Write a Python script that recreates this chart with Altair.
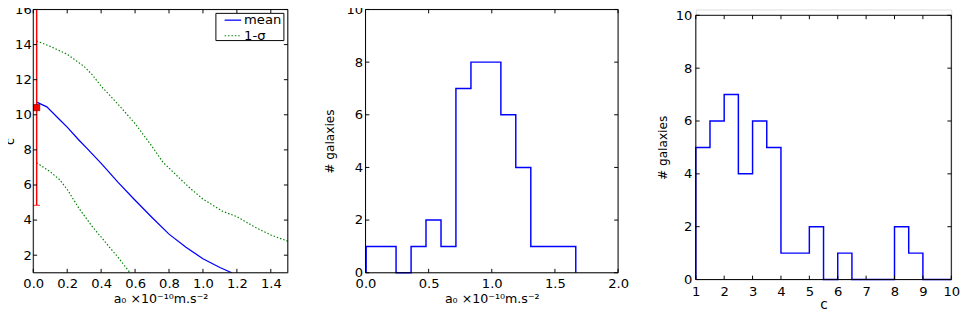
import altair as alt
import pandas as pd

# ---------------- data ----------------
# Panel 1: c versus a0
mean_a0 = [0.02, 0.08, 0.156, 0.2, 0.27, 0.318, 0.403, 0.5, 0.593, 0.7, 0.8, 0.9, 1.0, 1.1, 1.17]
mean_c = [10.72, 10.45, 9.72, 9.3, 8.55, 8.07, 7.2, 6.15, 5.2, 4.15, 3.2, 2.45, 1.8, 1.3, 1.0]

upper_a0 = [0.02, 0.1, 0.2, 0.3, 0.346, 0.403, 0.5, 0.6, 0.7, 0.764, 0.85, 0.926, 1.0, 1.116, 1.2, 1.306, 1.4, 1.5]
upper_c = [14.2, 13.9, 13.45, 12.75, 12.3, 11.6, 10.6, 9.5, 8.2, 7.3, 6.5, 5.8, 5.2, 4.5, 4.2, 3.6, 3.15, 2.8]

lower_a0 = [0.02, 0.1, 0.156, 0.2, 0.27, 0.35, 0.403, 0.45, 0.498, 0.57]
lower_c = [7.27, 6.75, 6.3, 5.75, 4.66, 3.6, 3.0, 2.45, 1.9, 1.0]

err_x = [0.02]
err_c = [10.41]
err_lo = [4.84]
err_hi = [16.5]

legend_labels = ["mean", "1-σ"]

# Panel 2: histogram of a0
a0_edges = [0.005, 0.124, 0.242, 0.361, 0.479, 0.598, 0.716, 0.835, 0.953,
            1.072, 1.190, 1.309, 1.427, 1.546, 1.665]
a0_counts = [1, 1, 0, 1, 2, 1, 7, 8, 8, 6, 4, 1, 1, 1]

# Panel 3: histogram of c
c_edges = [1.0, 1.5, 2.0, 2.5, 3.0, 3.5, 4.0, 4.5, 5.0, 5.5, 6.0, 6.5, 7.0,
           7.5, 8.0, 8.5, 9.0, 9.5, 10.0]
c_counts = [5, 6, 7, 4, 6, 5, 1, 1, 2, 0, 1, 0, 0, 0, 2, 1, 0, 0]

# tick values
p1_xticks = [0.0, 0.2, 0.4, 0.6, 0.8, 1.0, 1.2, 1.4]
p1_yticks = [2, 4, 6, 8, 10, 12, 14, 16]
p2_xticks = [0.0, 0.5, 1.0, 1.5, 2.0]
p2_yticks = [0, 2, 4, 6, 8, 10]
p3_xticks = [1, 2, 3, 4, 5, 6, 7, 8, 9, 10]
p3_yticks = [0, 2, 4, 6, 8, 10]

A0_TITLE = "a₀  ×10⁻¹⁰m.s⁻²"

FONT = "DejaVu Sans"
BLUE = "#0000ff"
GREEN = "#008000"
TICK = 4
LBL = 13.5


def step_df(edges, counts):
    xs = [edges[0]]
    ys = [0]
    for i, c in enumerate(counts):
        xs += [edges[i], edges[i + 1]]
        ys += [c, c]
    xs.append(edges[-1])
    ys.append(0)
    return pd.DataFrame({"x": xs, "y": ys, "i": list(range(len(xs)))})


def axis(values, fmt, title, title_size, title_pad, label_pad):
    return alt.Axis(values=values, format=fmt, title=title, ticks=False, domain=False,
                    grid=False, labelFont=FONT, labelFontSize=LBL, labelColor="black",
                    labelPadding=label_pad, titleFont=FONT, titleFontSize=title_size,
                    titleFontWeight="normal", titleColor="black", titlePadding=title_pad,
                    labelFlush=False, labelOverlap=False, labelBound=False)


def frame_and_ticks(W, top, bottom, xvals, yvals, xscale, yscale, xax, yax):
    one = pd.DataFrame({"a": [0]})
    frame = alt.Chart(one).mark_rect(
        filled=False, stroke="black", strokeWidth=1
    ).encode(x=alt.value(0), x2=alt.value(W), y=alt.value(top), y2=alt.value(bottom))
    xt = pd.DataFrame({"v": xvals})
    yt = pd.DataFrame({"v": yvals})
    xb = alt.Chart(xt).mark_rule(color="black", strokeWidth=1).encode(
        x=alt.X("v:Q", scale=xscale, axis=xax), y=alt.value(bottom), y2=alt.value(bottom - TICK))
    xtp = alt.Chart(xt).mark_rule(color="black", strokeWidth=1).encode(
        x=alt.X("v:Q", scale=xscale, axis=xax), y=alt.value(top), y2=alt.value(top + TICK))
    yl = alt.Chart(yt).mark_rule(color="black", strokeWidth=1).encode(
        y=alt.Y("v:Q", scale=yscale, axis=yax), x=alt.value(0), x2=alt.value(TICK))
    yr = alt.Chart(yt).mark_rule(color="black", strokeWidth=1).encode(
        y=alt.Y("v:Q", scale=yscale, axis=yax), x=alt.value(W), x2=alt.value(W - TICK))
    return [frame, xb, xtp, yl, yr]


# ---------------- panel 1 ----------------
W1, H1 = 262, 271
xs1 = alt.Scale(domain=[0, 1.5], nice=False, zero=False)
ys1 = alt.Scale(domain=[1, 16], nice=False, zero=False)
ax1 = axis(p1_xticks, ".1f", A0_TITLE, 13, 3, 4)
ay1 = axis(p1_yticks, "d", "c", 13, -2, 2)

df_mean = pd.DataFrame({"a": mean_a0, "c": mean_c, "i": range(len(mean_a0))})
df_up = pd.DataFrame({"a": upper_a0, "c": upper_c, "i": range(len(upper_a0))})
df_lo = pd.DataFrame({"a": lower_a0, "c": lower_c, "i": range(len(lower_a0))})
df_err = pd.DataFrame({"a": err_x, "c": err_c, "lo": err_lo, "hi": err_hi})

X1 = alt.X("a:Q", scale=xs1, axis=ax1)
Y1 = alt.Y("c:Q", scale=ys1, axis=ay1)

mean_line = alt.Chart(df_mean).mark_line(color=BLUE, strokeWidth=1.3, clip=True).encode(
    x=X1, y=Y1, order="i:Q")
up_line = alt.Chart(df_up).mark_line(color=GREEN, strokeWidth=1.2, strokeDash=[1.5, 2], clip=True).encode(
    x=X1, y=Y1, order="i:Q")
lo_line = alt.Chart(df_lo).mark_line(color=GREEN, strokeWidth=1.2, strokeDash=[1.5, 2], clip=True).encode(
    x=X1, y=Y1, order="i:Q")
err_rule = alt.Chart(df_err).mark_rule(color="red", strokeWidth=1.5, clip=True).encode(
    x=X1, y=alt.Y("lo:Q", scale=ys1, axis=ay1), y2="hi:Q")
err_cap = alt.Chart(df_err).mark_tick(color="red", thickness=1.2, size=7, orient="horizontal").encode(
    x=X1, y=alt.Y("lo:Q", scale=ys1, axis=ay1))
err_pt = alt.Chart(df_err).mark_square(color="red", size=42, opacity=1, stroke="#550000",
                                        strokeWidth=0.6, filled=True).encode(x=X1, y=Y1)

# legend
one = pd.DataFrame({"a": [0]})
leg_box = alt.Chart(one).mark_rect(fill="white", stroke="black", strokeWidth=1).encode(
    x=alt.value(188), x2=alt.value(258), y=alt.value(4), y2=alt.value(32))
leg_mean = alt.Chart(one).mark_rule(color=BLUE, strokeWidth=1.3).encode(
    x=alt.value(197), x2=alt.value(214), y=alt.value(11))
leg_sig = alt.Chart(one).mark_rule(color=GREEN, strokeWidth=1.2, strokeDash=[1.5, 2]).encode(
    x=alt.value(197), x2=alt.value(214), y=alt.value(27))
leg_t1 = alt.Chart(one).mark_text(align="left", baseline="middle", font=FONT, fontSize=LBL,
                                  color="black", text=legend_labels[0]).encode(
    x=alt.value(217), y=alt.value(11))
leg_t2 = alt.Chart(one).mark_text(align="left", baseline="middle", font=FONT, fontSize=LBL,
                                  color="black", text=legend_labels[1]).encode(
    x=alt.value(217), y=alt.value(27))

p1 = alt.layer(
    mean_line, up_line, lo_line, err_rule, err_cap, err_pt,
    *frame_and_ticks(W1, 0, H1, p1_xticks, p1_yticks, xs1, ys1, ax1, ay1),
    leg_box, leg_mean, leg_sig, leg_t1, leg_t2,
).properties(width=W1, height=H1)

# ---------------- panel 2 ----------------
W2, H2 = 260, 271
xs2 = alt.Scale(domain=[0, 2], nice=False, zero=False)
ys2 = alt.Scale(domain=[0, 10], nice=False, zero=False)
ax2 = axis(p2_xticks, ".1f", A0_TITLE, 13, 3, 4)
ay2 = axis(p2_yticks, "d", "# galaxies", 12.5, 10, 3)
df_h2 = step_df(a0_edges, a0_counts)
h2 = alt.Chart(df_h2).mark_line(color=BLUE, strokeWidth=1.5).encode(
    x=alt.X("x:Q", scale=xs2, axis=ax2),
    y=alt.Y("y:Q", scale=ys2, axis=ay2),
    order="i:Q")
p2 = alt.layer(h2, *frame_and_ticks(W2, 0, H2, p2_xticks, p2_yticks, xs2, ys2, ax2, ay2)).properties(
    width=W2, height=H2)

# ---------------- panel 3 ----------------
W3, H3 = 263, 278
TOP3 = 6
xs3 = alt.Scale(domain=[1, 10], nice=False, zero=False)
ys3 = alt.Scale(domain=[0, 10], nice=False, zero=False, range=[H3, TOP3])
ax3 = axis(p3_xticks, "d", "c", 14, 0, 5)
ay3 = axis(p3_yticks, "d", "# galaxies", 12.5, 6, 4)
df_h3 = step_df(c_edges, c_counts)
h3 = alt.Chart(df_h3).mark_line(color=BLUE, strokeWidth=1.5).encode(
    x=alt.X("x:Q", scale=xs3, axis=ax3),
    y=alt.Y("y:Q", scale=ys3, axis=ay3),
    order="i:Q")
p3 = alt.layer(h3, *frame_and_ticks(W3, TOP3, H3, p3_xticks, p3_yticks, xs3, ys3, ax3, ay3)).properties(
    width=W3, height=H3)

chart = alt.hconcat(p1, p2, p3, spacing=80, bounds="flush").properties(
    padding={"left": -5, "top": -11, "right": 0, "bottom": 0}
).configure_view(stroke="transparent").configure(background="white")

chart.save("out.html", embed_options={"renderer": "svg", "actions": False})
